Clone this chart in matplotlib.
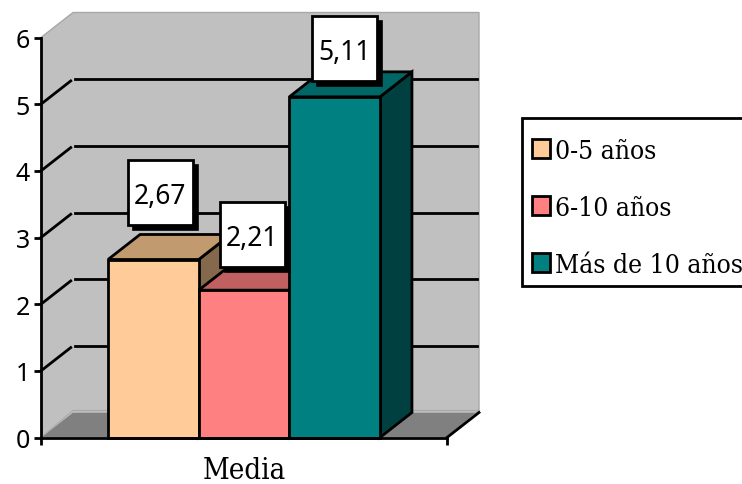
import matplotlib
matplotlib.use('Agg')
import matplotlib.pyplot as plt
from matplotlib.patches import Patch, Polygon, Rectangle
from matplotlib.transforms import Affine2D

categories = ['0-5 años', '6-10 años', 'Más de 10 años']
values = [2.67, 2.21, 5.11]
value_labels = ['2,67', '2,21', '5,11']
category_label = 'Media'
yticks = [0, 1, 2, 3, 4, 5, 6]

front = ['#FFCC99', '#FF8080', '#008080']
top = ['#C29A70', '#C06060', '#006666']
side = ['#84694D', '#804040', '#004040']
# label box centre, pixels away from the top centre of each bar
label_off = [(7, 67), (8, 56), (10, 48)]

W, H = 742, 485
LW = 2.0
serif = {'family': 'DejaVu Serif', 'stretch': 'condensed'}
fig = plt.figure(figsize=[W/100, H/100], dpi=100)
ax = fig.add_axes([41/W, (H-438.5)/H, 406/W, 400/H])
ax.set_xlim(-2.24, 2.24)
ax.set_ylim(0, 6)
ax.patch.set_visible(False)

# depth of the fake 3d box, in data units
dx = 32*4.48/406
dy = 25*6/400
xl, xr = -2.24, 2.24
ymax = 6


def poly(pts, fc, ec='k', lw=LW, z=2):
    ax.add_patch(Polygon(pts, closed=True, fc=fc, ec=ec, lw=lw, zorder=z, clip_on=False, joinstyle='miter'))


# walls and floor
poly([(xl, 0), (xl+dx, dy), (xr+dx, dy), (xr+dx, ymax+dy), (xl+dx, ymax+dy), (xl, ymax)], '#C0C0C0', ec='none', z=1)
poly([(xl, 0), (xl+dx, dy), (xr+dx, dy), (xr, 0)], '#808080', ec='none', z=1)
ax.plot([xl, xl+dx, xr+dx, xr+dx], [ymax, ymax+dy, ymax+dy, dy], c='#A8A8A8', lw=1, zorder=1, clip_on=False)
ax.plot([xl, xl+dx, xr+dx, xr], [0, dy+0.03, dy+0.03, 0], c='#A8A8A8', lw=0.8, zorder=1, clip_on=False)
ax.plot([xr, xr+dx], [0, dy], c='k', lw=LW, zorder=1.5, clip_on=False)

# gridlines, broken a little at the corner
for v in yticks[1:-1]:
    ax.plot([xl, xl+dx*0.93], [v, v+dy*0.93], c='k', lw=LW, zorder=1.5, clip_on=False)
    ax.plot([xl+dx*1.07, xr+dx*0.94], [v+dy, v+dy], c='k', lw=LW, zorder=1.5, clip_on=False)

# bars, left to right so each front hides the side before it
for i, v in enumerate(values):
    a, b = i-1.5, i-0.5
    z = 2+i*0.1
    poly([(b, 0), (b+dx, dy), (b+dx, v+dy), (b, v)], side[i], z=z)
    poly([(a, v), (a+dx, v+dy), (b+dx, v+dy), (b, v)], top[i], z=z)
    poly([(a, 0), (b, 0), (b, v), (a, v)], front[i], z=z+0.05)

# value labels with drop shadow
for i, v in enumerate(values):
    px, py = ax.transData.transform((i-1, v))
    cx, cy = px+label_off[i][0], py+label_off[i][1]
    tr = Affine2D().translate(cx, cy)
    ax.add_patch(Rectangle((-27.5, -37.5), 65, 65, fc='k', ec='k', lw=1.2, transform=tr, zorder=5, clip_on=False))
    ax.add_patch(Rectangle((-32.5, -32.5), 65, 65, fc='w', ec='k', lw=LW, transform=tr, zorder=6, clip_on=False))
    ax.text(0, 0, value_labels[i], transform=tr, ha='center', va='center_baseline', fontsize=19,
            family='Noto Sans', color='k', zorder=7)

for d in ['top', 'right']:
    ax.spines[d].set_visible(False)
for d in ['left', 'bottom']:
    ax.spines[d].set_linewidth(LW)
    ax.spines[d].set_zorder(4)
ax.set_xticks([xl, xr], ['', ''])
ax.set_yticks(yticks)
ax.tick_params(axis='both', length=5, width=LW, direction='out', pad=3)
ax.tick_params(axis='y', labelsize=18)
for t in ax.get_yticklabels():
    t.set_family('Noto Sans')
ax.set_xlabel(category_label, fontsize=21, labelpad=5, **serif)

# legend frame runs past the right edge of the picture
fig.add_artist(Rectangle((522/W, (H-287)/H), 240/W, 168/H, fc='w', ec='k', lw=LW, transform=fig.transFigure))
handles = [Patch(fc=c, ec='k', lw=LW) for c in front]
fig.legend(handles, categories, loc='upper left', bbox_to_anchor=(532/W, (H-139)/H), frameon=False,
           prop={'size': 19, **serif},
           handlelength=0.68, handleheight=0.75, handletextpad=0.2, labelspacing=1.21, borderpad=0,
           borderaxespad=0)

plt.savefig('out.png', dpi=100)
plt.close()
